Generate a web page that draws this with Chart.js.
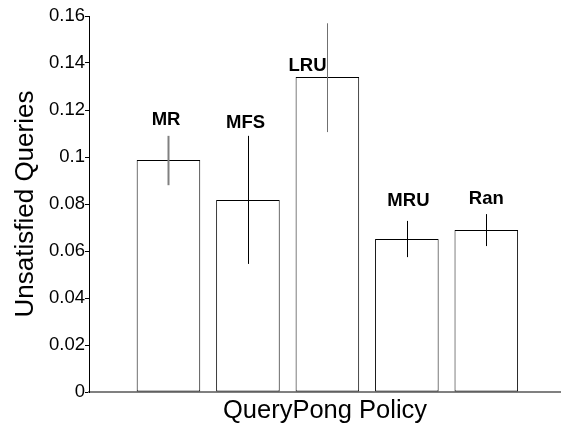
<!DOCTYPE html>
<html>
<head>
<meta charset="utf-8">
<script src="https://cdn.jsdelivr.net/npm/chart.js@4"></script>
<style>
html,body{margin:0;padding:0;background:#fff;}
canvas{display:block;}
</style>
</head>
<body>
<canvas id="c" width="561" height="427"></canvas>
<script>
// ---- data ----
const categories = ['MR', 'MFS', 'LRU', 'MRU', 'Ran'];
const positions = [1, 2, 3, 4, 5];
const values = [0.0987, 0.0817, 0.1340, 0.0651, 0.0689];
const errLow = [0.0880, 0.0545, 0.1106, 0.0574, 0.0621];
const errHigh = [0.1090, 0.1090, 0.1569, 0.0728, 0.0757];
const labelX = [0.97, 1.97, 2.75, 4.02, 5.00];
const labelY = [0.1157, 0.1146, 0.1389, 0.0814, 0.0821];
const yTickValues = [0, 0.02, 0.04, 0.06, 0.08, 0.10, 0.12, 0.14, 0.16];
const yTickLabels = ['0', '0.02', '0.04', '0.06', '0.08', '0.1', '0.12', '0.14', '0.16'];
const yTitle = 'Unsatisfied Queries';
const xTitle = 'QueryPong Policy';

const errColors = ['#808080', '#000000', '#707070', '#000000', '#000000'];
const errWidths = [2, 1, 1, 1, 1];
const FONT = "'Liberation Sans', Arial, Helvetica, sans-serif";

const errorBars = {
  id: 'errorBars',
  afterDatasetsDraw(chart) {
    const {ctx, scales: {x, y}} = chart;
    ctx.save();
    positions.forEach((p, i) => {
      const px = Math.round(x.getPixelForValue(p)) + 0.5;
      ctx.beginPath();
      ctx.strokeStyle = errColors[i];
      ctx.lineWidth = errWidths[i];
      ctx.moveTo(px, y.getPixelForValue(errLow[i]));
      ctx.lineTo(px, y.getPixelForValue(errHigh[i]));
      ctx.stroke();
    });
    ctx.fillStyle = '#000';
    ctx.font = 'bold 18.5px ' + FONT;
    ctx.textAlign = 'center';
    ctx.textBaseline = 'middle';
    categories.forEach((c, i) => {
      ctx.fillText(c, x.getPixelForValue(labelX[i]), y.getPixelForValue(labelY[i]));
    });
    ctx.restore();
  }
};

new Chart(document.getElementById('c'), {
  type: 'bar',
  data: {
    datasets: [{
      data: positions.map((p, i) => ({x: p, y: values[i]})),
      backgroundColor: '#ffffff',
      borderColor: '#000000',
      borderWidth: 1,
      borderSkipped: false,
      categoryPercentage: 1.0,
      barPercentage: 0.8
    }]
  },
  options: {
    responsive: false,
    animation: false,
    devicePixelRatio: 1,
    layout: {padding: {top: 16, right: 0, bottom: 0, left: 0}},
    plugins: {legend: {display: false}, tooltip: {enabled: false}},
    scales: {
      x: {
        type: 'linear',
        min: 0,
        max: 5.94,
        offset: false,
        afterBuildTicks(s) { s.ticks = positions.map(v => ({value: v})); },
        grid: {display: false, drawTicks: false},
        border: {display: true, color: '#808080', width: 2},
        ticks: {display: false},
        title: {display: true, text: xTitle, color: '#000', font: {family: FONT, size: 25.5}, padding: {top: 0, bottom: 1}},
        afterFit(s) { s.height = 35; }
      },
      y: {
        min: 0,
        max: 0.16,
        afterBuildTicks(s) { s.ticks = yTickValues.map(v => ({value: v})); },
        ticks: {
          color: '#000',
          font: {family: FONT, size: 18.5},
          padding: 0,
          callback: (v, i) => yTickLabels[i]
        },
        grid: {display: true, drawOnChartArea: false, drawTicks: true, tickLength: 4, color: '#000', lineWidth: 1},
        border: {display: true, color: '#000', width: 1},
        title: {display: true, text: yTitle, color: '#000', font: {family: FONT, size: 26}, padding: {top: 10, bottom: 0}},
        afterFit(s) { s.width = 89; }
      }
    }
  },
  plugins: [errorBars]
});
</script>
</body>
</html>
